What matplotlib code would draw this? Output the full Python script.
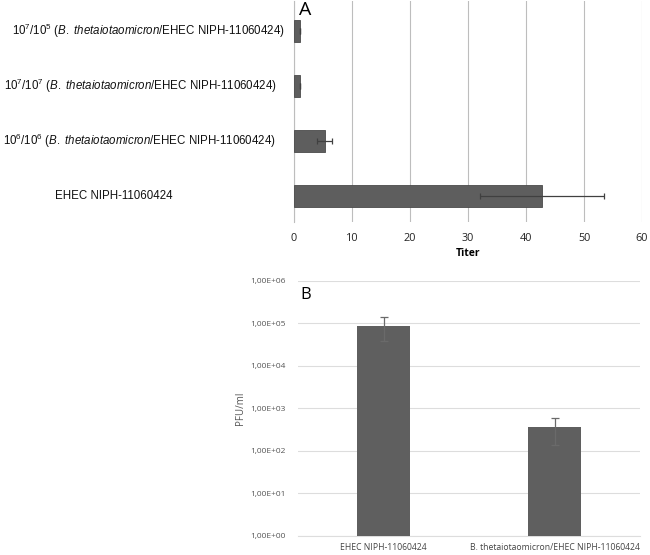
import matplotlib
matplotlib.use("Agg")
import matplotlib.pyplot as plt
import matplotlib.transforms as mtransforms
import numpy as np

plt.rcParams["mathtext.fontset"] = "custom"
plt.rcParams["mathtext.rm"] = "Liberation Sans"
plt.rcParams["mathtext.it"] = "Liberation Sans:italic"
plt.rcParams["mathtext.bf"] = "Liberation Sans:bold"
plt.rcParams["mathtext.sf"] = "Liberation Sans"

# Panel A data (bottom to top)
a_labels = [
    "EHEC NIPH-11060424",
    r"10$^{6}$/10$^{6}$ ($\mathit{B.\ thetaiotaomicron}$/EHEC NIPH-11060424)",
    r"10$^{7}$/10$^{7}$ ($\mathit{B.\ thetaiotaomicron}$/EHEC NIPH-11060424)",
    r"10$^{7}$/10$^{5}$ ($\mathit{B.\ thetaiotaomicron}$/EHEC NIPH-11060424)",
]
a_values = [42.7, 5.3, 1.0, 1.0]
a_errors = [10.7, 1.3, 0.05, 0.05]
a_xticks = [0, 10, 20, 30, 40, 50, 60]

# Panel B data
b_categories = ["EHEC NIPH-11060424", "B. thetaiotaomicron/EHEC NIPH-11060424"]
b_values = [8.8e4, 3.6e2]
b_errors = [5.0e4, 2.2e2]
b_yticks = [1e0, 1e1, 1e2, 1e3, 1e4, 1e5, 1e6]
b_yticklabels = ["1,00E+00", "1,00E+01", "1,00E+02", "1,00E+03", "1,00E+04", "1,00E+05", "1,00E+06"]

W, H = 650, 555
fig = plt.figure(figsize=(W / 100, H / 100), dpi=100)

def ax_rect(x0, y0, x1, y1):
    return [x0 / W, 1 - y1 / H, (x1 - x0) / W, (y1 - y0) / H]

# ---------- Panel A ----------
axA = fig.add_axes(ax_rect(294, 1, 642, 222))
ypos = np.arange(len(a_values))
axA.barh(ypos, a_values, height=0.4, color="#5e5e5e", edgecolor="#4a4a4a", linewidth=0.6, zorder=3)
axA.errorbar(a_values, ypos, xerr=a_errors, fmt="none", ecolor="#404040", elinewidth=0.9,
             capsize=2.5, capthick=0.9, zorder=4)
axA.set_xlim(0, 60)
axA.set_ylim(-0.47, 3.55)
axA.set_xticks(a_xticks)
axA.set_xticklabels([str(v) for v in a_xticks], fontsize=7.8, family="Open Sans", color="#222222")
axA.tick_params(axis="x", length=0, pad=8)
axA.set_yticks([])
axA.grid(axis="x", color="#bdbdbd", linewidth=0.8, zorder=0)
for s in ["top", "right", "bottom"]:
    axA.spines[s].set_visible(False)
axA.spines["left"].set_color("#bdbdbd")
axA.spines["left"].set_linewidth(0.8)
axA.set_xlabel("Titer", fontsize=7.5, family="Open Sans", fontweight="bold", labelpad=3)
axA.text(0.014, 1.0, "A", transform=axA.transAxes, fontsize=14, family="Open Sans",
         va="top", ha="left")

# category labels (reference has them unevenly aligned)
label_right_px = [173, 276, 277, 285]
trans = mtransforms.blended_transform_factory(fig.transFigure, axA.transData)
for yv, lab, rx in zip(ypos, a_labels, label_right_px):
    fig.text(rx / W, yv, lab, transform=trans, ha="right", va="center", fontsize=8.3,
             family="Liberation Sans", color="#111111")

# ---------- Panel B ----------
axB = fig.add_axes(ax_rect(298, 280.8, 640, 535.7))
xpos = np.arange(len(b_values))
axB.bar(xpos, b_values, width=0.31, color="#5f5f5f", zorder=3)
axB.errorbar(xpos, b_values, yerr=b_errors, fmt="none", ecolor="#6a6a6a", elinewidth=0.9,
             capsize=3, capthick=0.9, zorder=4)
axB.set_yscale("log")
axB.set_ylim(1, 1e6)
axB.set_xlim(-0.5, 1.5)
axB.set_yticks(b_yticks)
axB.set_yticklabels(b_yticklabels, fontsize=6.0, family="Open Sans", color="#555555")
axB.yaxis.set_minor_locator(matplotlib.ticker.NullLocator())
axB.set_xticks(xpos)
axB.set_xticklabels(b_categories, fontsize=6.2, family="Open Sans", color="#444444")
axB.tick_params(axis="both", length=0)
axB.tick_params(axis="y", pad=9)
axB.tick_params(axis="x", pad=5)
axB.grid(axis="y", color="#dddddd", linewidth=0.8, zorder=0)
for s in ["top", "right", "left"]:
    axB.spines[s].set_visible(False)
axB.spines["bottom"].set_color("#dddddd")
axB.spines["bottom"].set_linewidth(0.8)
axB.set_ylabel("PFU/ml", fontsize=7, family="Open Sans", color="#555555", labelpad=3)
axB.text(0.008, 0.975, "B", transform=axB.transAxes, fontsize=12, family="Open Sans",
         va="top", ha="left")

fig.savefig("out.png", dpi=100)
